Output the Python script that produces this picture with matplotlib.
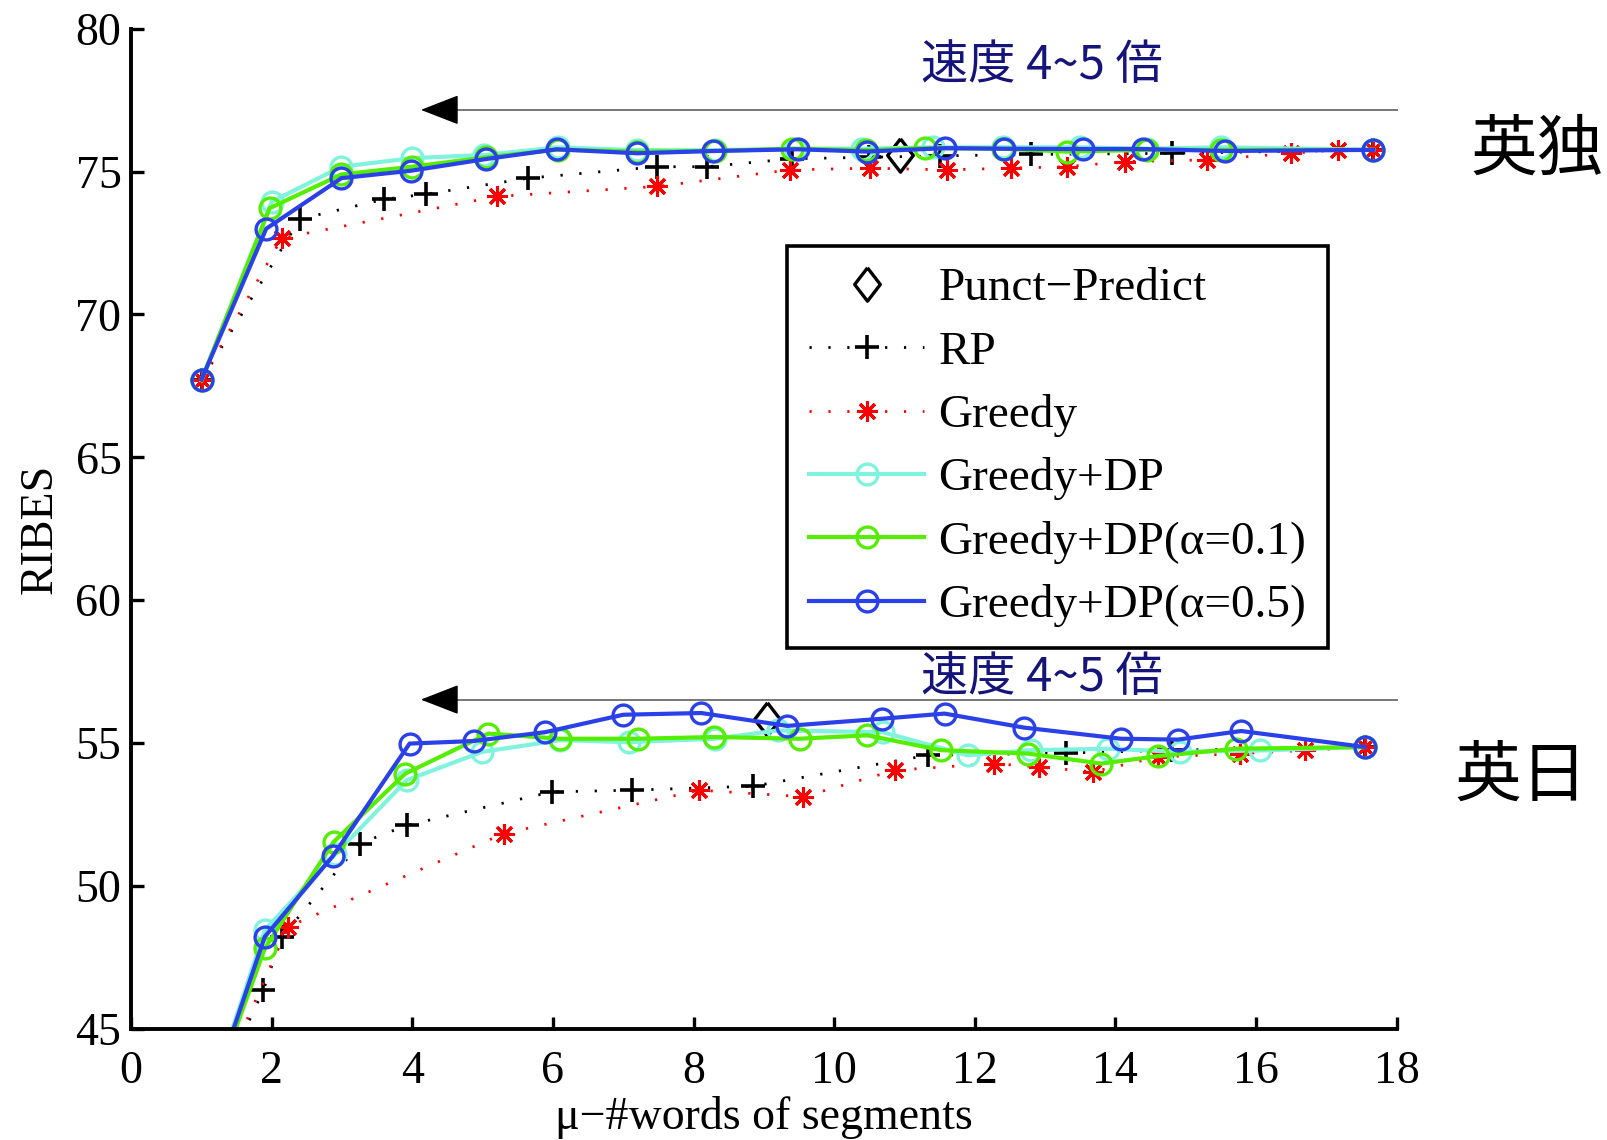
import matplotlib
matplotlib.use("Agg")
import matplotlib.pyplot as plt

plt.rcParams["font.family"] = ["Liberation Serif", "DejaVu Serif"]

# English-German (top group)
punct_de_x = [10.94]
punct_de_y = [75.58]
rp_de_x = [1.0, 2.40, 3.60, 4.19, 5.65, 7.48, 8.19, 9.40, 10.50, 11.50, 12.80, 14.80, 17.67]
rp_de_y = [67.7, 73.34, 74.03, 74.21, 74.77, 75.17, 75.17, 75.45, 75.50, 75.55, 75.60, 75.64, 75.76]
greedy_de_x = [1.0, 2.14, 5.20, 7.48, 9.37, 10.51, 11.60, 12.52, 13.31, 14.14, 15.30, 16.50, 17.17, 17.67]
greedy_de_y = [67.7, 72.67, 74.13, 74.48, 75.06, 75.12, 75.06, 75.12, 75.17, 75.35, 75.41, 75.64, 75.76, 75.75]
dp_de_x = [1.0, 2.0, 2.99, 3.99, 5.02, 6.07, 7.2, 8.3, 9.45, 10.4, 11.4, 12.4, 13.5, 14.45, 15.5, 17.67]
dp_de_y = [67.7, 73.95, 75.17, 75.47, 75.58, 75.85, 75.75, 75.75, 75.8, 75.8, 75.85, 75.85, 75.85, 75.8, 75.85, 75.76]
dp01_de_x = [1.0, 1.97, 2.99, 3.99, 5.05, 6.07, 7.2, 8.3, 9.4, 10.45, 11.29, 12.4, 13.31, 14.45, 15.5, 17.67]
dp01_de_y = [67.7, 73.72, 74.9, 75.17, 75.5, 75.77, 75.7, 75.72, 75.8, 75.75, 75.82, 75.8, 75.7, 75.76, 75.76, 75.76]
dp05_de_x = [1.0, 1.92, 2.99, 3.98, 5.05, 6.05, 7.2, 8.27, 9.48, 10.46, 11.58, 12.41, 13.54, 14.4, 15.56, 17.67]
dp05_de_y = [67.72, 73.0, 74.77, 75.03, 75.44, 75.78, 75.64, 75.72, 75.78, 75.7, 75.82, 75.8, 75.79, 75.79, 75.72, 75.76]

# English-Japanese (bottom group)
punct_ja_x = [9.04]
punct_ja_y = [55.85]
rp_ja_x = [1.0, 1.88, 2.14, 3.25, 3.92, 5.98, 7.13, 8.85, 11.33, 13.3, 14.8, 17.55]
rp_ja_y = [41.7, 46.35, 48.2, 51.48, 52.12, 53.29, 53.35, 53.49, 54.57, 54.65, 54.75, 54.86]
greedy_ja_x = [1.0, 2.23, 5.30, 8.08, 9.56, 10.87, 12.28, 12.92, 13.68, 14.60, 15.77, 16.70, 17.55]
greedy_ja_y = [41.7, 48.57, 51.83, 53.35, 53.12, 54.05, 54.28, 54.16, 53.99, 54.51, 54.63, 54.74, 54.86]
dp_ja_x = [1.0, 1.9, 2.9, 3.92, 4.99, 6.1, 7.08, 8.3, 9.2, 10.69, 11.9, 12.8, 13.9, 14.92, 16.06, 17.55]
dp_ja_y = [41.7, 48.45, 51.1, 53.7, 54.69, 55.1, 55.03, 55.15, 55.44, 55.38, 54.57, 54.75, 54.8, 54.69, 54.74, 54.86]
dp01_ja_x = [1.0, 1.9, 2.88, 3.9, 5.08, 6.1, 7.21, 8.29, 9.51, 10.47, 11.52, 12.76, 13.8, 14.6, 15.71, 17.55]
dp01_ja_y = [41.7, 47.81, 51.54, 53.93, 55.33, 55.15, 55.15, 55.21, 55.15, 55.27, 54.75, 54.63, 54.28, 54.54, 54.8, 54.86]
dp05_ja_x = [1.0, 1.9, 2.87, 3.96, 4.87, 5.89, 7.0, 8.11, 9.33, 10.68, 11.57, 12.7, 14.08, 14.89, 15.79, 17.55]
dp05_ja_y = [41.7, 48.22, 51.05, 54.98, 55.07, 55.38, 55.99, 56.05, 55.6, 55.85, 56.03, 55.54, 55.15, 55.12, 55.42, 54.86]

labels = ["Punct\u2212Predict", "RP", "Greedy", "Greedy+DP",
          "Greedy+DP(\u03b1=0.1)", "Greedy+DP(\u03b1=0.5)"]
speed_text = "速度 4~5 倍"
pair_labels = ["英独", "英日"]

cjk = ["Noto Sans CJK JP", "DejaVu Sans"]
diamond = [(0, 1), (0.77, 0), (0, -1), (-0.77, 0), (0, 1)]
dotted = (0, (0.8, 6))

fig = plt.figure(figsize=(16.08, 11.4), dpi=100)
ax = fig.add_axes([0.0816, 0.0976, 0.7869, 0.8772])

groups = [
    (punct_de_x, punct_de_y, rp_de_x, rp_de_y, greedy_de_x, greedy_de_y,
     dp_de_x, dp_de_y, dp01_de_x, dp01_de_y, dp05_de_x, dp05_de_y),
    (punct_ja_x, punct_ja_y, rp_ja_x, rp_ja_y, greedy_ja_x, greedy_ja_y,
     dp_ja_x, dp_ja_y, dp01_ja_x, dp01_ja_y, dp05_ja_x, dp05_ja_y),
]

handles = []
for gi, g in enumerate(groups):
    h = []
    h += ax.plot(g[0], g[1], ls="none", marker=diamond, ms=24, mfc="none",
                 mec="black", mew=2.4)
    h += ax.plot(g[2], g[3], ls=dotted, lw=2, color="black", marker="+",
                 ms=17, mew=2.6)
    h += ax.plot(g[4], g[5], ls=dotted, lw=2, color="red", marker=(8, 2, 0),
                 ms=15, mew=2.2)
    h += ax.plot(g[6], g[7], ls="-", lw=3, color="#7ff3de", marker="o",
                 ms=15, mfc="none", mew=2.4)
    h += ax.plot(g[8], g[9], ls="-", lw=3, color="#55ee00", marker="o",
                 ms=15, mfc="none", mew=2.4)
    h += ax.plot(g[10], g[11], ls="-", lw=3, color="#2a40e8", marker="o",
                 ms=15, mfc="none", mew=2.4)
    if gi == 0:
        handles = h

ax.set_xlim(0, 18)
ax.set_ylim(45, 80)
ax.set_xticks(range(0, 19, 2))
ax.set_yticks(range(45, 81, 5))

for s in ["top", "right"]:
    ax.spines[s].set_visible(False)
for s in ["left", "bottom"]:
    ax.spines[s].set_linewidth(2.8)
ax.tick_params(direction="in", length=9, width=2.4, labelsize=33)
ax.tick_params(axis="x", pad=16)
ax.tick_params(axis="y", pad=7)

ax.set_xlabel("\u03bc\u2212#words of segments", fontsize=33, labelpad=2)
ax.set_ylabel("RIBES", fontsize=33, labelpad=10)

# speed-up arrows and notes
for y_arrow, y_text in [(77.16, 78.72), (56.52, 57.28)]:
    ax.plot([4.4, 18], [y_arrow, y_arrow], color="#777777", lw=1.4,
            clip_on=False)
    ax.annotate("", xy=(4.12, y_arrow), xytext=(4.6, y_arrow),
                arrowprops=dict(arrowstyle="-|>,head_length=0.9,head_width=0.35",
                                mutation_scale=27, color="black", lw=1.2,
                                shrinkA=0, shrinkB=0))
    ax.text(12.95, y_text, speed_text, family=cjk, fontsize=34,
            color="#14147a", ha="center", va="center")

ax.text(20.0, 75.72, pair_labels[0], family=cjk, fontsize=48,
        ha="center", va="center", clip_on=False)
ax.text(19.77, 53.8, pair_labels[1], family=cjk, fontsize=48,
        ha="center", va="center", clip_on=False)

leg = ax.legend(handles, labels, loc="upper left",
                bbox_to_anchor=(0.4897, 0.7842), bbox_transform=fig.transFigure,
                borderaxespad=0, fontsize=34, numpoints=1, handlelength=2.45,
                handletextpad=0.3, labelspacing=0.43, borderpad=0.45,
                fancybox=False, framealpha=1, edgecolor="black")
leg.get_frame().set_linewidth(2.6)

fig.savefig("out.png", dpi=100)
